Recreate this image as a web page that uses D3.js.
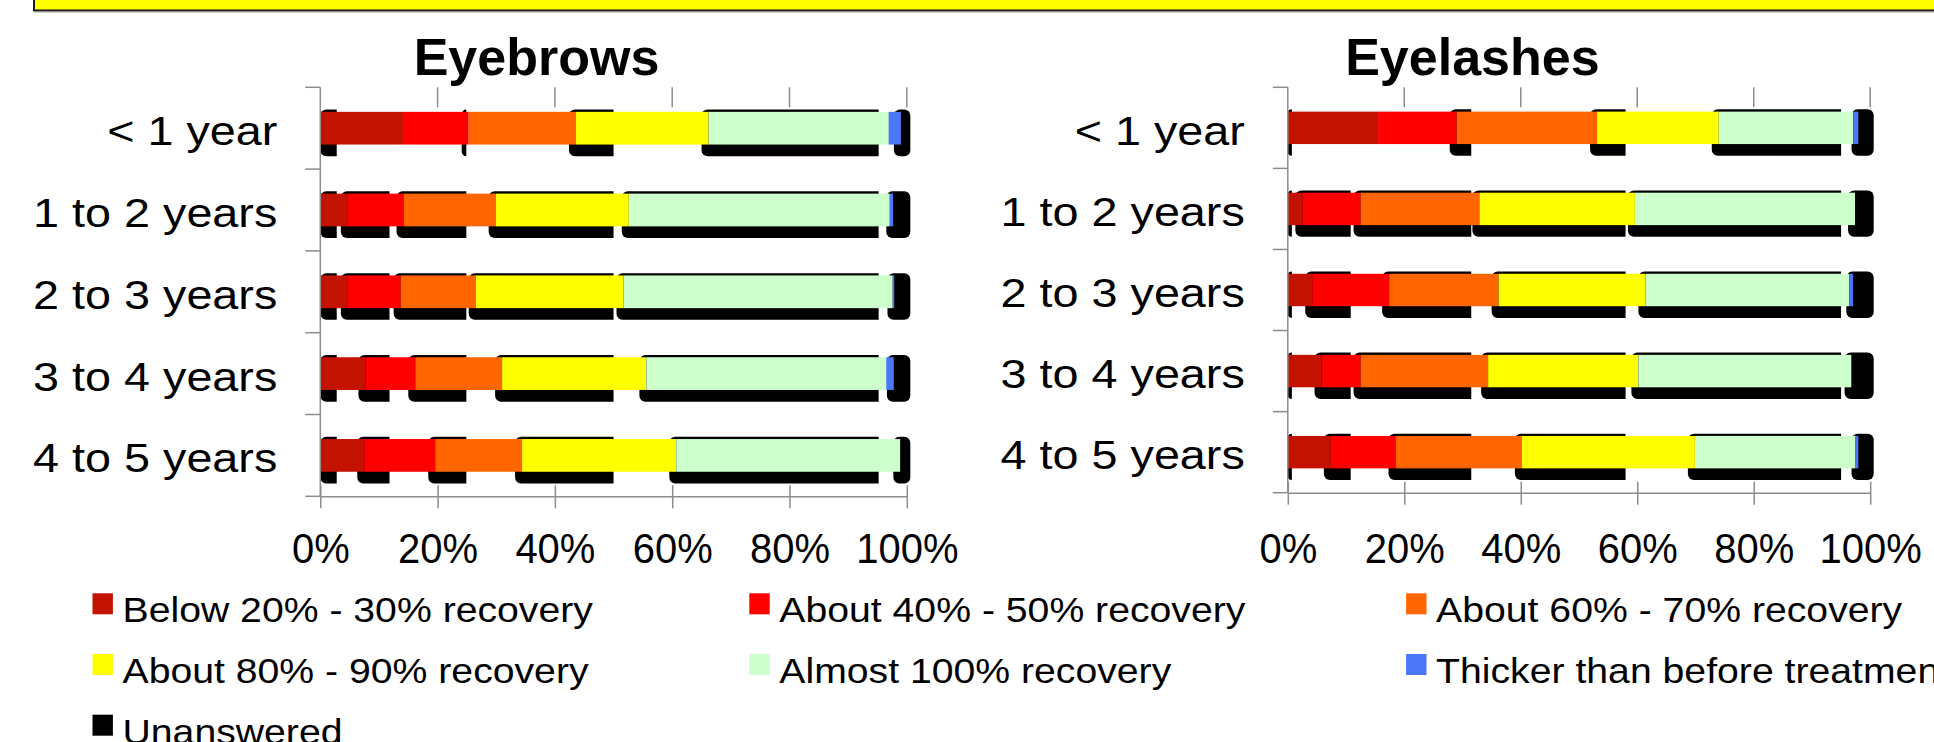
<!DOCTYPE html>
<html>
<head>
<meta charset="utf-8">
<script src="https://cdn.jsdelivr.net/npm/d3@7"></script>
<style>
  body { margin: 0; background: #fff; overflow: hidden; }
  svg { display: block; }
</style>
</head>
<body>
<div id="app"></div>
<script>
/* globals d3 */
// DATA
const categories = ['< 1 year', '1 to 2 years', '2 to 3 years', '3 to 4 years', '4 to 5 years'];

const seriesNames = [
  'Below 20% - 30% recovery',
  'About 40% - 50% recovery',
  'About 60% - 70% recovery',
  'About 80% - 90% recovery',
  'Almost 100% recovery',
  'Thicker than before treatment',
  'Unanswered',
];
const seriesColours = ['#c41200', '#ff0000', '#ff6600', '#ffff00', '#ccffcc', '#4b77f7', '#000000'];

// one row per series, one value (percent) per category
const eyebrowValues = [
  [14.1, 4.7, 4.7, 7.7, 7.5],
  [11.2, 9.5, 9.0, 8.5, 12.1],
  [18.3, 15.7, 12.8, 14.8, 14.8],
  [22.6, 22.7, 25.2, 24.6, 26.3],
  [30.7, 44.5, 45.9, 40.9, 38.2],
  [2.1, 0.6, 0.3, 1.3, 0],
  [1.0, 2.3, 2.1, 2.2, 1.1],
];
const eyelashValues = [
  [15.5, 2.5, 4.2, 5.8, 7.4],
  [13.5, 10.0, 13.2, 6.7, 11.1],
  [24.1, 20.4, 18.8, 21.9, 21.7],
  [20.9, 26.7, 25.2, 25.8, 29.7],
  [23.1, 37.8, 35.0, 36.6, 27.5],
  [0.9, 0, 0.7, 0, 0.6],
  [2.0, 2.6, 2.9, 3.2, 2.0],
];

// where the black drop-shadow pieces behind the bars get cut off (percent of axis)
const eyebrowShadowCuts = [2.8, 11.8, 24.9, 50, 95.2, 100.6];
const eyelashShadowCuts = [0.7, 10.8, 31.5, 58, 95, 100.6];

const xTicks = [0, 0.2, 0.4, 0.6, 0.8, 1];

// LAYOUT
const WIDTH = 1934;
const HEIGHT = 742;
const FONT = '"Liberation Sans", Arial, Helvetica, sans-serif';
const AXIS_COLOUR = '#8c8c8c';
const PLOT_TOP = 87.3;
const TICK_BASELINE = 563;

const panels = [
  { title: 'Eyebrows', values: eyebrowValues, cuts: eyebrowShadowCuts,
    x0: 320.3, width: 586.5, height: 409, titleX: 536.5 },
  { title: 'Eyelashes', values: eyelashValues, cuts: eyelashShadowCuts,
    x0: 1287.8, width: 582.4, height: 405.4, titleX: 1472.4 },
];

const $svg = d3.select('#app')
  .append('svg')
  .attr('width', WIDTH)
  .attr('height', HEIGHT)
  .style('font-family', FONT);

// yellow banner cut off at the top
$svg.append('rect')
  .attr('x', 34).attr('y', -10)
  .attr('width', WIDTH).attr('height', 20.5)
  .attr('fill', '#ffff00')
  .attr('stroke', '#1a1a1a')
  .attr('stroke-width', 2);
$svg.append('line')
  .attr('x1', 34).attr('x2', WIDTH)
  .attr('y1', 12).attr('y2', 12)
  .attr('stroke', '#9a9a9a').attr('stroke-width', 1.2);

function shadowPath(x1, x2, y1, y2, roundRight) {
  const r = Math.min(6, (x2 - x1) / (roundRight ? 2 : 1));
  const rr = roundRight ? r : 0;
  return `M${x1 + r},${y1} H${x2 - rr} A${rr},${rr} 0 0 1 ${x2},${y1 + rr}` +
    ` V${y2 - rr} A${rr},${rr} 0 0 1 ${x2 - rr},${y2} H${x1 + r}` +
    ` A${r},${r} 0 0 1 ${x1},${y2 - r} V${y1 + r} A${r},${r} 0 0 1 ${x1 + r},${y1} Z`;
}

function drawPanel(p) {
  const bottom = PLOT_TOP + p.height;
  const x = d3.scaleLinear().domain([0, 1]).range([p.x0, p.x0 + p.width]);
  const y = d3.scaleBand()
    .domain(categories)
    .range([PLOT_TOP, bottom])
    .paddingInner(0.6)
    .paddingOuter(0.3);

  const table = categories.map((category, i) => {
    const row = { category };
    seriesNames.forEach((name, j) => { row[name] = p.values[j][i]; });
    return row;
  });
  const stacked = d3.stack().keys(seriesNames).offset(d3.stackOffsetExpand)(table);

  const $g = $svg.append('g');

  // title
  $g.append('text')
    .attr('x', p.titleX).attr('y', 75)
    .attr('text-anchor', 'middle')
    .attr('font-size', 52)
    .attr('font-weight', 'bold')
    .text(p.title);

  // black shadow pieces behind each bar
  const $shadow = $g.append('g').attr('fill', '#000');
  const edges = p.cuts.map(c => x(c / 100));
  categories.forEach((cat, i) => {
    const starts = stacked
      .filter(s => s[i][1] - s[i][0] > 1e-6)
      .map(s => Math.max(p.x0, x(s[i][0]) - 7));
    edges.forEach((hi, k) => {
      const lo = k === 0 ? p.x0 : edges[k - 1];
      const inTile = starts.filter(s => s >= lo && s < hi);
      if (!inTile.length) return;
      const s = d3.max(inTile);
      if (hi - s < 0.5) return;
      $shadow.append('path')
        .attr('d', shadowPath(s, hi, y(cat) - 2.3, y(cat) + y.bandwidth() + 11.7, k === edges.length - 1));
    });
  });

  // stacked bars
  $g.append('g')
    .selectAll('g')
    .data(stacked)
    .join('g')
      .attr('fill', (d, i) => seriesColours[i])
    .selectAll('rect')
    .data(d => d)
    .join('rect')
      .attr('x', d => x(d[0]))
      .attr('width', d => Math.max(0, x(d[1]) - x(d[0])))
      .attr('y', d => y(d.data.category))
      .attr('height', y.bandwidth());

  // category axis
  const $yAxis = $g.append('g').attr('stroke', AXIS_COLOUR).attr('stroke-width', 1.5);
  $yAxis.append('line')
    .attr('x1', p.x0).attr('x2', p.x0)
    .attr('y1', PLOT_TOP).attr('y2', bottom);
  $yAxis.selectAll('line.tick')
    .data(d3.range(categories.length + 1))
    .join('line')
      .attr('class', 'tick')
      .attr('x1', p.x0 - 15).attr('x2', p.x0)
      .attr('y1', i => PLOT_TOP + i * y.step())
      .attr('y2', i => PLOT_TOP + i * y.step());

  // top ticks
  $g.append('g')
    .selectAll('line')
    .data(xTicks.slice(1))
    .join('line')
      .attr('x1', d => x(d)).attr('x2', d => x(d))
      .attr('y1', PLOT_TOP).attr('y2', PLOT_TOP + 20)
      .attr('stroke', AXIS_COLOUR).attr('stroke-width', 1.5);

  // category labels
  $g.append('g')
    .selectAll('text')
    .data(categories)
    .join('text')
      .attr('transform', d => `translate(${p.x0 - 43},${y(d) + y.bandwidth() / 2 + 17}) scale(1.14,1)`)
      .attr('text-anchor', 'end')
      .attr('font-size', 41)
      .text(d => d);

  // percent axis
  const xAxis = d3.axisBottom(x)
    .tickValues(xTicks)
    .tickFormat(d3.format('.0%'))
    .tickSizeOuter(0)
    .tickSizeInner(12);

  const $xAxis = $g.append('g')
    .attr('transform', `translate(0,${bottom})`)
    .call(xAxis)
    .attr('font-family', FONT)
    .attr('font-size', 43);

  $xAxis.select('.domain').attr('stroke', AXIS_COLOUR).attr('stroke-width', 1.5);
  $xAxis.selectAll('.tick line')
    .attr('y1', -11)
    .attr('stroke', AXIS_COLOUR)
    .attr('stroke-width', 1.5);
  $xAxis.selectAll('.tick text')
    .attr('y', TICK_BASELINE - bottom)
    .attr('dy', null)
    .attr('fill', '#000')
    .attr('transform', 'scale(0.93,1)');
}

panels.forEach(drawPanel);

// legend, three per row
const $legend = $svg.append('g')
  .selectAll('g')
  .data(seriesNames)
  .join('g')
    .attr('transform', (d, i) => `translate(${92.5 + (i % 3) * 656.8},${593.3 + Math.floor(i / 3) * 60.7})`);

$legend.append('rect')
  .attr('width', 20.4)
  .attr('height', 21)
  .attr('fill', (d, i) => seriesColours[i]);

$legend.append('text')
  .attr('transform', 'translate(30,29) scale(1.12,1)')
  .attr('font-size', 35)
  .text(d => d);
</script>
</body>
</html>
